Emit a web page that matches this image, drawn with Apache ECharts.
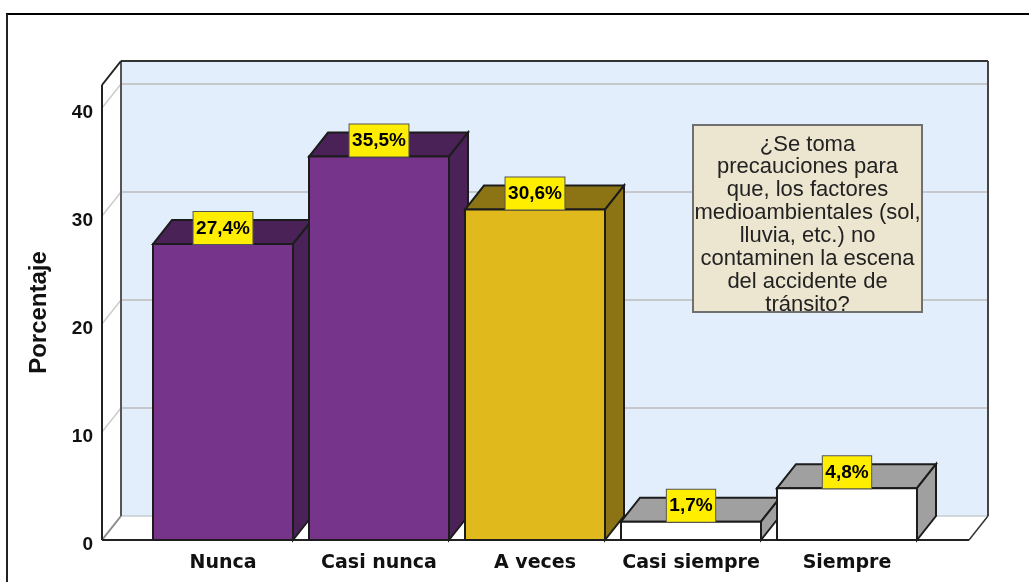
<!DOCTYPE html>
<html>
<head>
<meta charset="utf-8">
<style>
	html,body{margin:0;padding:0;background:#fff;}
	#main{width:1029px;height:582px;}
</style>
<script src="https://cdn.jsdelivr.net/npm/echarts@6/dist/echarts.min.js"></script>
</head>
<body>
<div id="main"></div>
<script>
var categories = ["Nunca","Casi nunca","A veces","Casi siempre","Siempre"];
var values = [27.4,35.5,30.6,1.7,4.8];
var frontColors = ["#76358a","#76358a","#e0b91d","#ffffff","#ffffff"];
var darkColors = ["#4a2257","#4a2257","#8c7414","#a0a0a0","#a0a0a0"];
var yTicks = [0,10,20,30,40];
var noteLines = ["¿Se toma","precauciones para","que, los factores","medioambientales (sol,","lluvia, etc.) no","contaminen la escena","del accidente de","tránsito?"];

var yMax = 42.13;
var depthX = 19, depthY = 24;   // 3d offset of the back wall
var padLeft = 43, padRight = 44; // floor is wider than the bar bands
var barWidth = 140;

var myChart = echarts.init(document.getElementById('main'));

function poly(points,fill,stroke,lw){
	return {type:'polygon',shape:{points:points},style:{fill:fill,stroke:stroke||null,lineWidth:lw||1}};
}
function line(x1,y1,x2,y2,color,lw){
	return {type:'line',shape:{x1:x1,y1:y1,x2:x2,y2:y2},style:{stroke:color,lineWidth:lw,fill:null}};
}

function renderFrame(params,api){
	var cs = params.coordSys;
	var x0 = cs.x-padLeft, x1 = cs.x+cs.width+padRight;
	var y0 = api.coord([0,0])[1], yt = api.coord([0,yMax])[1];
	var ch = [];
	// back wall, side wall, floor
	ch.push(poly([[x0+depthX,yt-depthY],[x1+depthX,yt-depthY],[x1+depthX,y0-depthY],[x0+depthX,y0-depthY]],'#e2eefb'));
	ch.push(poly([[x0,yt],[x0+depthX,yt-depthY],[x0+depthX,y0-depthY],[x0,y0]],'#ffffff'));
	ch.push(poly([[x0,y0],[x1,y0],[x1+depthX,y0-depthY],[x0+depthX,y0-depthY]],'#ffffff'));
	for(var i = 1;i<yTicks.length;i++){
		var y = api.coord([0,yTicks[i]])[1];
		ch.push(line(x0,y,x0+depthX,y-depthY,'#cccccc',1.5));
		ch.push(line(x0+depthX,y-depthY,x1+depthX,y-depthY,'#c6c8cc',2));
	}
	ch.push(line(x0+depthX,y0-depthY,x1+depthX,y0-depthY,'#c6ccd2',1.5));
	ch.push(line(x0,y0,x0+depthX,y0-depthY,'#8a8a8a',2));
	ch.push(line(x0+depthX,yt-depthY,x0+depthX,y0-depthY,'#555555',2));
	ch.push(line(x0+depthX,yt-depthY,x1+depthX,yt-depthY,'#333333',2));
	ch.push(line(x1+depthX,yt-depthY,x1+depthX,y0-depthY,'#444444',2));
	ch.push(line(x1,y0,x1+depthX,y0-depthY,'#333333',1.5));
	ch.push(line(x0,yt,x0+depthX,yt-depthY,'#222222',2));
	ch.push(line(x0,yt,x0,y0,'#222222',2));
	ch.push(line(x0,y0,x1,y0,'#222222',2));
	return {type:'group',children:ch};
}

function renderBar(params,api){
	var i = api.value(0);
	var p = api.coord([i,api.value(1)]);
	var b = api.coord([i,0]);
	var l = p[0]-barWidth/2, r = p[0]+barWidth/2;
	var out = '#1c1c1c';
	return {type:'group',children:[
		poly([[l,p[1]],[l+depthX,p[1]-depthY],[r+depthX,p[1]-depthY],[r,p[1]]],darkColors[i],out,2),
		poly([[r,p[1]],[r+depthX,p[1]-depthY],[r+depthX,b[1]-depthY],[r,b[1]]],darkColors[i],out,2),
		poly([[l,p[1]],[r,p[1]],[r,b[1]],[l,b[1]]],frontColors[i],out,2),
		{type:'text',x:p[0],y:p[1],z2:10,style:{
			text:String(api.value(1)).replace('.',',')+'%',
			font:'bold 19px "Liberation Sans"',
			fill:'#000',
			align:'center',
			verticalAlign:'bottom',
			backgroundColor:'#ffee00',
			borderColor:'#555555',
			borderWidth:1,
			padding:[7,2.5,6,2.5]
		}}
	]};
}

var option = {
	animation:false,
	backgroundColor:'#ffffff',
	grid:{left:145,right:104,top:85,height:455,outerBoundsMode:'none'},
	xAxis:{
		type:'category',
		data:categories,
		axisLine:{show:false},
		axisTick:{show:false},
		splitLine:{show:false},
		axisLabel:{color:'#111',fontFamily:'DejaVu Sans',fontWeight:'bold',fontSize:19,margin:14,interval:0}
	},
	yAxis:{
		type:'value',
		min:0,
		max:yMax,
		interval:10,
		offset:43,
		name:'Porcentaje',
		nameLocation:'middle',
		nameGap:51,
		nameTextStyle:{color:'#111',fontFamily:'Liberation Sans',fontWeight:'bold',fontSize:24},
		axisLine:{show:false},
		axisTick:{show:false},
		splitLine:{show:false},
		axisLabel:{
			margin:9,
			showMaxLabel:false,
			formatter:'{v|{value}}',
			rich:{v:{color:'#111',fontFamily:'Liberation Sans',fontWeight:'bold',fontSize:19,padding:[9,0,0,0]}}
		}
	},
	series:[
		{type:'custom',silent:true,z:1,data:[[0,0]],renderItem:renderFrame},
		{type:'custom',z:2,data:values.map(function(v,i){return [i,v];}),renderItem:renderBar}
	],
	graphic:[
		{type:'line',z:0,silent:true,shape:{x1:6,y1:14,x2:1029,y2:14},style:{stroke:'#000',lineWidth:2}},
		{type:'line',z:0,silent:true,shape:{x1:7,y1:14,x2:7,y2:582},style:{stroke:'#222',lineWidth:2}},
		{type:'rect',z:50,silent:true,shape:{x:693,y:125,width:229,height:187},style:{fill:'#ece5d0',stroke:'#707070',lineWidth:2}},
		{type:'text',z:51,silent:true,x:807.5,y:133,style:{
			text:noteLines.join('\n'),
			font:'22px "Liberation Sans"',
			lineHeight:22.9,
			fill:'#222',
			align:'center',
			verticalAlign:'top'
		}}
	]
};
myChart.setOption(option);
</script>
</body>
</html>
